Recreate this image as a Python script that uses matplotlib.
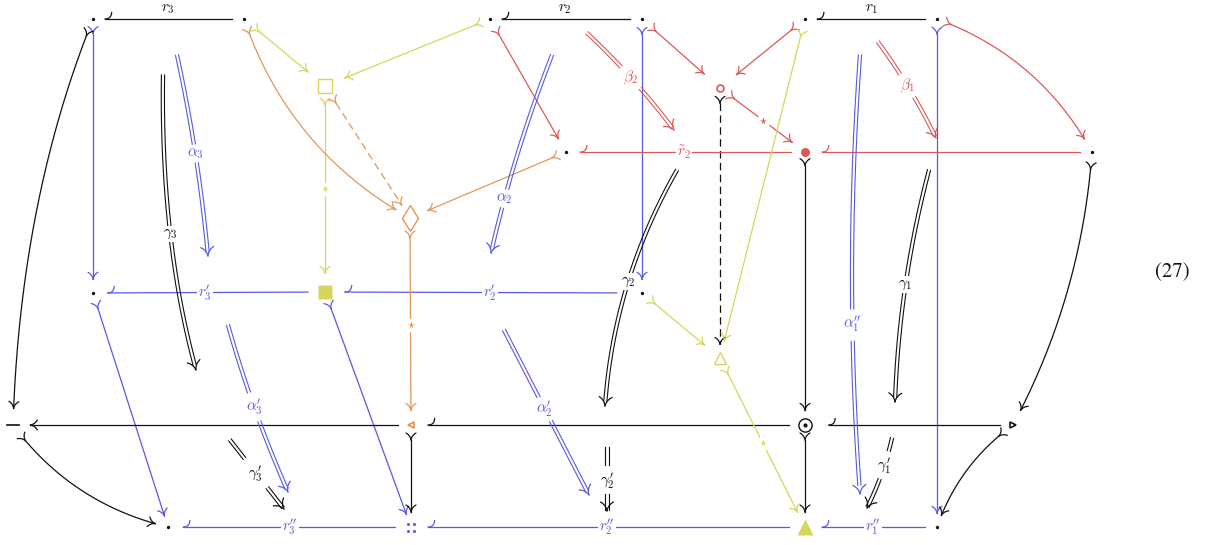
import numpy as np
import matplotlib.pyplot as plt

plt.rcParams['mathtext.fontset'] = 'cm'

BLACK = '#111111'
BLUE = '#5a5ae0'
RED = '#de5858'
YELLOW = '#d6d65a'
ORANGE = '#e0985a'

# node positions (pixels, y downwards)
node_names = ['a3', 'b3', 'a2', 'b2', 'a1', 'b1', 'sq', 'circ', 'c2', 'bullet', 'e1', 'dia',
              'd3', 'fsq', 'd2', 'tri', 'minus', 'ltri', 'odot', 'rtri', 'f3', 'dd', 'ftri', 'f1']
node_x = [93, 244, 490, 642, 805, 937, 325, 720, 566, 805, 1092, 410,
          93, 325, 642, 720, 13, 411, 805, 1013, 168, 411, 805, 937]
node_y = [19, 19, 19, 19, 19, 19, 86, 88, 152, 152, 152, 218,
          293, 292, 293, 358, 425, 425, 425, 425, 527, 527, 527, 527]
P = {n: np.array([x, y], float) for n, x, y in zip(node_names, node_x, node_y)}

# 1-cells: (src, dst, bend offset of control point, trim start, trim end, tail, head, style, star)
DASH = (0, (6, 3.5))
black_edges = [
    ('b3', 'a3', (0, 0), 12, 12, None, 'hook', '-', False),
    ('b2', 'a2', (0, 0), 12, 12, None, 'hook', '-', False),
    ('b1', 'a1', (0, 0), 12, 12, None, 'hook', '-', False),
    ('a3', 'minus', (-33, -22), 18, 16, 'Y', 'arrow', '-', False),
    ('minus', 'f3', (-19, 28), 20, 13, 'Y', 'arrow', '-', False),
    ('ltri', 'minus', (0, 0), 12, 17, None, 'arrow', '-', False),
    ('odot', 'ltri', (0, 0), 15, 17, None, 'hook', '-', False),
    ('rtri', 'odot', (0, 0), 13, 23, None, 'hook', '-', False),
    ('bullet', 'odot', (0, 0), 13, 14, 'Y', 'arrow', '-', False),
    ('odot', 'ftri', (0, 0), 15, 15, 'Y', 'arrow', '-', False),
    ('ltri', 'dd', (0, 0), 15, 15, 'Y', 'arrow', '-', False),
    ('circ', 'tri', (0, 0), 15, 13, 'Y', 'arrow', DASH, False),
    ('e1', 'rtri', (29, 8), 17, 16, 'Y', 'arrow', '-', False),
    ('rtri', 'f1', (-16, -12), 18, 12, 'Y', 'arrow', '-', False),
]
blue_edges = [
    ('a3', 'd3', (0, 0), 14, 13, 'Y', 'arrow', '-', False),
    ('b2', 'd2', (0, 0), 15, 13, 'Y', 'arrow', '-', False),
    ('b1', 'f1', (0, 0), 15, 12, 'Y', 'arrow', '-', False),
    ('fsq', 'd3', (0, 0), 17, 14, None, 'hook', '-', False),
    ('d2', 'fsq', (0, 0), 25, 20, None, 'hook', '-', False),
    ('d3', 'f3', (0, 0), 16, 11, 'Y', 'arrow', '-', False),
    ('fsq', 'dd', (0, 0), 17, 13, 'Y', 'arrow', '-', False),
    ('dd', 'f3', (0, 0), 16, 15, None, 'hook', '-', False),
    ('ftri', 'dd', (0, 0), 15, 17, None, 'hook', '-', False),
    ('f1', 'ftri', (0, 0), 12, 17, None, 'hook', '-', False),
]
red_edges = [
    ('bullet', 'c2', (0, 0), 13, 14, None, 'hook', '-', False),
    ('e1', 'bullet', (0, 0), 12, 17, None, 'hook', '-', False),
    ('a2', 'c2', (0, 0), 18, 15, 'Y', 'arrow', '-', False),
    ('b2', 'circ', (0, 0), 19, 21, 'Y', 'arrow', '-', False),
    ('a1', 'circ', (0, 0), 18, 21, 'Y', 'arrow', '-', False),
    ('circ', 'bullet', (0, 0), 18, 16, 'Y', 'arrow', '-', True),
    ('b1', 'e1', (25, -29), 15, 15, 'Y', 'arrow', '-', False),
]
yellow_edges = [
    ('b3', 'sq', (0, 0), 20, 22, 'Y', 'arrow', '-', False),
    ('a2', 'sq', (0, 0), 16, 21, 'Y', 'arrow', '-', False),
    ('sq', 'fsq', (0, 0), 19, 18, 'Y', 'arrow', '-', True),
    ('d2', 'tri', (0, 0), 17, 20, 'Y', 'arrow', '-', False),
    ('a1', 'tri', (0, 0), 18, 17, 'Y', 'arrow', '-', False),
    ('tri', 'ftri', (0, 0), 18, 16, 'Y', 'arrow', '-', True),
]
orange_edges = [
    ('b3', 'dia', (-38, 32), 16, 16, 'Y', 'arrow', '-', False),
    ('sq', 'dia', (0, 0), 20, 15, 'Y', 'arrow', DASH, False),
    ('c2', 'dia', (0, 0), 15, 19, 'Y', 'arrow', '-', False),
    ('dia', 'ltri', (0, 0), 20, 14, 'Y', 'arrow', '-', True),
]

# labels of 1-cells: text, x, y, colour, on-line (white background)
edge_labels = [
    ('$r_3$', 168, 8, BLACK, False), ('$r_2$', 565, 8, BLACK, False), ('$r_1$', 872, 8, BLACK, False),
    ('$\\tilde{r}_2$', 684, 152, RED, True),
    ('$r^{\\prime}_3$', 205, 293, BLUE, True), ('$r^{\\prime}_2$', 490, 293, BLUE, True),
    ('$r^{\\prime\\prime}_3$', 290, 527, BLUE, True), ('$r^{\\prime\\prime}_2$', 607, 527, BLUE, True),
    ('$r^{\\prime\\prime}_1$', 873, 527, BLUE, True),
]

# 2-cells: label, colour, start, end, bend, gap (fractions along the arrow)
cells_label = ['$\\gamma_3$', '$\\gamma_2$', '$\\gamma_1$',
               '$\\gamma^{\\prime}_3$', '$\\gamma^{\\prime}_2$', '$\\gamma^{\\prime}_1$',
               '$\\alpha_3$', '$\\alpha_2$', '$\\alpha^{\\prime}_3$', '$\\alpha^{\\prime}_2$',
               '$\\alpha^{\\prime\\prime}_1$', '$\\beta_2$', '$\\beta_1$']
cells_color = [BLACK] * 6 + [BLUE] * 5 + [RED] * 2
cells_start = [(163, 75), (677, 170), (929, 170), (230, 440), (607, 447), (892, 438),
               (177, 55), (552, 55), (228, 325), (504, 330), (860, 55),
               (587, 33), (878, 42)]
cells_end = [(196, 370), (605, 406), (895, 402), (284, 509), (607, 511), (867, 508),
             (208, 256), (491, 253), (288, 492), (589, 495), (860, 494),
             (674, 130), (936, 138)]
cells_bend = [(-19, 18), (-27, -8), (-13, -2), (0, 0), (0, 0), (4, 2),
              (6, -2), (-8, 0), (-6, 2), (0, 0), (-16, 0),
              (4, -4), (4, -3)]
cells_gap = [(0.49, 0.53), (0.46, 0.52), (0.47, 0.53), (0.27, 0.69), (0.29, 0.73), (0.18, 0.57),
             (0.45, 0.54), (0.68, 0.77), (0.40, 0.57), (0.41, 0.55), (0.58, 0.65),
             (0.37, 0.59), (0.35, 0.59)]


def bezier(p0, p1, bend, n=300):
    c = (p0 + p1) / 2 + np.array(bend, float)
    t = np.linspace(0, 1, n)[:, None]
    return (1 - t) ** 2 * p0 + 2 * t * (1 - t) * c + t ** 2 * p1


def trim(pts, s0, s1):
    seg = np.hypot(*np.diff(pts, axis=0).T)
    s = np.concatenate([[0], np.cumsum(seg)])
    keep = (s >= s0) & (s <= s[-1] - s1)
    return pts[keep]


def unit(v):
    return v / np.hypot(*v)


def tip(ax, p, d, color, h=7.0, w=5.0, lw=0.9):
    # curved arrow tip (also used as the tail "Y"): arms go back from p
    n = np.array([-d[1], d[0]])
    t = np.linspace(0, 1, 20)[:, None]
    for s in (1, -1):
        end = p - d * h + n * w * s
        ctrl = p - d * h * 0.65 + n * w * s * 0.15
        arm = (1 - t) ** 2 * p + 2 * t * (1 - t) * ctrl + t ** 2 * end
        ax.plot(arm[:, 0], arm[:, 1], color=color, lw=lw, solid_capstyle='round', zorder=3)


def hook(ax, p, d, color, lw=0.9):
    n = np.array([-d[1], d[0]])
    t = np.linspace(0, 1, 20)[:, None]
    ctrl = p - d * 6
    end = p - d * 6.5 + n * 6.5
    arm = (1 - t) ** 2 * p + 2 * t * (1 - t) * ctrl + t ** 2 * end
    ax.plot(arm[:, 0], arm[:, 1], color=color, lw=lw, zorder=3)


def draw_edges(ax, edges, color):
    for src, dst, bend, s0, s1, tail, head, ls, star in edges:
        pts = trim(bezier(P[src], P[dst], bend), s0, s1)
        ax.plot(pts[:, 0], pts[:, 1], color=color, lw=0.9, ls=ls, zorder=2)
        d0 = unit(pts[3] - pts[0])
        d1 = unit(pts[-1] - pts[-4])
        if tail == 'Y':
            tip(ax, pts[0], d0, color)
        if head == 'arrow':
            tip(ax, pts[-1], d1, color)
        elif head == 'hook':
            hook(ax, pts[-1], d1, color)
        if star:
            m = pts[len(pts) // 2]
            ax.plot(*m, 'o', ms=9, color='white', zorder=4)
            ax.plot(*m, '*', ms=5.5, color=color, mec='none', zorder=5)


def draw_cell(ax, label, color, start, end, bend, gap):
    pts = bezier(np.array(start, float), np.array(end, float), bend)
    tang = np.gradient(pts, axis=0)
    tang /= np.hypot(tang[:, 0], tang[:, 1])[:, None]
    nrm = np.stack([-tang[:, 1], tang[:, 0]], axis=1)
    k = len(pts)
    t = np.linspace(0, 1, k)
    main = t < 1 - 0.02
    for part in (main & (t <= gap[0]), main & (t >= gap[1])):
        for s in (1.6, -1.6):
            q = pts[part] + nrm[part] * s
            ax.plot(q[:, 0], q[:, 1], color=color, lw=0.8, zorder=2)
    d = unit(pts[-1] - pts[-6])
    tip(ax, pts[-1], d, color, h=9, w=6.5)
    m = pts[int((gap[0] + gap[1]) / 2 * (k - 1))]
    ax.text(m[0], m[1], label, color=color, fontsize=11, ha='center', va='center', zorder=6,
            bbox=dict(facecolor='white', edgecolor='none', pad=0.5))


fig = plt.figure(figsize=(12.09, 5.45), dpi=100)
ax = fig.add_axes([0, 0, 1, 1])
ax.set_xlim(0, 1209)
ax.set_ylim(545, 0)
ax.axis('off')

draw_edges(ax, blue_edges, BLUE)
draw_edges(ax, black_edges, BLACK)
draw_edges(ax, red_edges, RED)
draw_edges(ax, yellow_edges, YELLOW)
draw_edges(ax, orange_edges, ORANGE)

for lab, col, st, en, bd, gp in zip(cells_label, cells_color, cells_start, cells_end, cells_bend, cells_gap):
    draw_cell(ax, lab, col, st, en, bd, gp)

for txt, x, y, col, online in edge_labels:
    kw = dict(bbox=dict(facecolor='white', edgecolor='none', pad=0.5)) if online else {}
    ax.text(x, y, txt, color=col, fontsize=11, ha='center', va='center', zorder=6, **kw)

# nodes
for n in ['a3', 'b3', 'a2', 'b2', 'a1', 'b1', 'c2', 'e1', 'd3', 'd2', 'f3', 'f1']:
    ax.plot(*P[n], 'o', ms=1.4, color=BLACK, zorder=5)
ax.plot(*P['sq'], 's', ms=10, mfc='none', mec=YELLOW, mew=1.0, zorder=5)
ax.plot(*P['fsq'], 's', ms=10.5, color=YELLOW, mec='none', zorder=5)
ax.plot(*P['circ'], 'o', ms=5, mfc='none', mec=RED, mew=1.2, zorder=5)
ax.plot(*P['bullet'], 'o', ms=6.5, color=RED, mec='none', zorder=5)
ax.plot(*P['dia'], 'd', ms=13, mfc='none', mec=ORANGE, mew=1.0, zorder=5)
ax.plot(*P['tri'], '^', ms=8, mfc='none', mec=YELLOW, mew=1.0, zorder=5)
ax.plot(*P['ftri'], '^', ms=11, color=YELLOW, mec='none', zorder=5)
ax.plot(*P['ltri'], '<', ms=5, mfc='none', mec=ORANGE, mew=1.3, zorder=5)
ax.plot(*P['rtri'], '>', ms=5, mfc='none', mec=BLACK, mew=1.2, zorder=5)
ax.plot(*P['odot'], 'o', ms=9.5, mfc='none', mec=BLACK, mew=1.0, zorder=5)
ax.plot(*P['odot'], 'o', ms=2, color=BLACK, zorder=5)
mx, my = P['minus']
ax.plot([mx - 6, mx + 6], [my, my], color=BLACK, lw=1.2, zorder=5)
dx, dy = P['dd']
ax.plot([dx - 3, dx + 3, dx - 3, dx + 3], [dy - 3.5, dy - 3.5, dy + 3.5, dy + 3.5], 'o', ms=2.2,
        color=BLUE, mec='none', zorder=5)

ax.text(1172, 272, '(27)', fontsize=15, family='STIXGeneral', ha='center', va='center', color=BLACK)

fig.savefig('out.png', dpi=100)
